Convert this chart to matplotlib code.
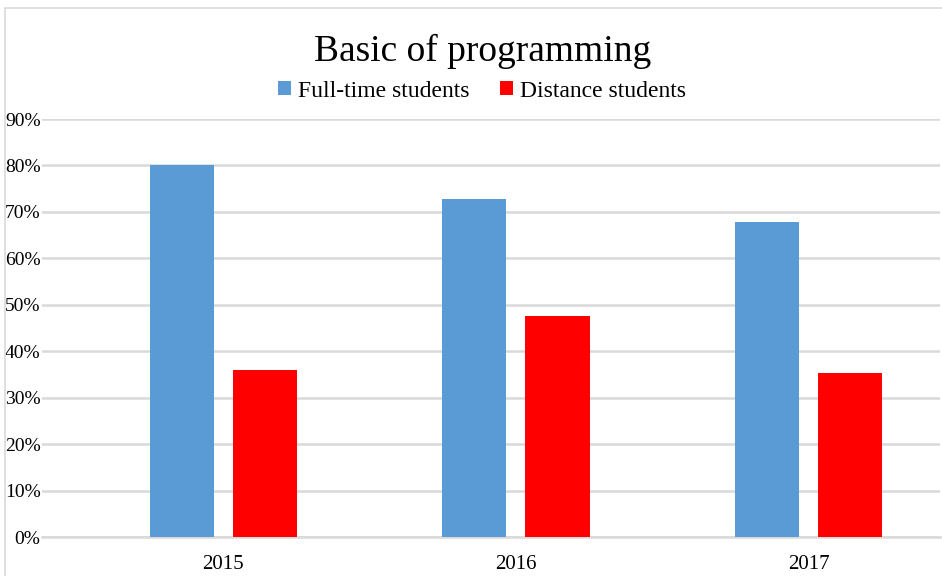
import matplotlib.pyplot as plt
from matplotlib.patches import Rectangle
import numpy as np

# Data
years = ['2015', '2016', '2017']
full_time = [80.0, 72.8, 67.9]
distance = [36.0, 47.5, 35.4]
y_ticks = [0, 10, 20, 30, 40, 50, 60, 70, 80, 90]

plt.rcParams['font.family'] = ['Liberation Serif', 'DejaVu Serif']

fig = plt.figure(figsize=(9.42, 5.76), dpi=100)
ax = fig.add_axes([0.0446, 0.0677, 0.9534, 0.7257])

x = np.arange(len(years))
w = 0.22
gap = 0.065
off = (w + gap) / 2
ax.bar(x - off, full_time, w, color='#5B9BD5', label='Full-time students', zorder=3)
ax.bar(x + off, distance, w, color='#FF0000', label='Distance students', zorder=3)

ax.set_xlim(-0.62, 2.45)
ax.set_ylim(0, 90)
ax.set_yticks(y_ticks)
ax.set_yticklabels([f'{t}%' for t in y_ticks], fontsize=14)
ax.set_xticks(x)
ax.set_xticklabels(years, fontsize=15)
ax.tick_params(axis='x', length=0, pad=13)
ax.tick_params(axis='y', length=0, pad=1)

ax.grid(axis='y', color='#D9D9D9', linewidth=1.8, zorder=0)
for s in ['top', 'right', 'left']:
    ax.spines[s].set_visible(False)
ax.spines['bottom'].set_color('#D9D9D9')
ax.spines['bottom'].set_linewidth(1.8)

fig.text(0.512, 0.91, 'Basic of programming', ha='center', va='center', fontsize=27)
fig.legend(loc='center', bbox_to_anchor=(0.512, 0.842), ncol=2, frameon=False,
           fontsize=17, handlelength=0.55, handleheight=0.55, handletextpad=0.3,
           columnspacing=1.3)

# chart border
fig.add_artist(Rectangle((5 / 942, -0.1), 1.1, 1 - 8 / 576 + 0.1, transform=fig.transFigure,
                         fill=False, edgecolor='#D9D9D9', linewidth=1.2))

fig.savefig('out.png', dpi=100)
